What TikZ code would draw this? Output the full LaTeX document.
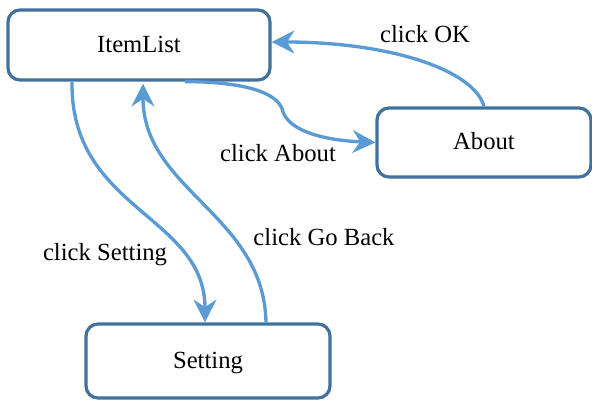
\documentclass[tikz,border=0pt]{standalone}
\usepackage{fontspec}
\setmainfont{Liberation Serif}
\usetikzlibrary{arrows.meta}
\definecolor{boxblue}{HTML}{41719C}
\definecolor{arrowblue}{HTML}{5B9BD5}
\begin{document}
\begin{tikzpicture}[x=0.75pt,y=-0.75pt,
  state/.style={draw=boxblue,line width=2.4pt,rounded corners=9pt,fill=white,
    font=\fontsize{18.5}{22}\selectfont,inner sep=0pt,text height=11pt,text depth=0pt},
  trans/.style={draw=arrowblue,line width=2.5pt,
    -{Stealth[length=17pt,width=17pt,inset=5.5pt]}},
  lbl/.style={font=\fontsize{18.5}{22}\selectfont,inner sep=0pt}]
\useasboundingbox (0,0) rectangle (592,400);
% states
\node[state,minimum width=196.5pt,minimum height=52.5pt] (IL) at (139,45) {ItemList};
\node[state,minimum width=160.5pt,minimum height=51.75pt] (AB) at (484,142.5) {About};
\node[state,minimum width=183pt,minimum height=55.5pt] (ST) at (208,361) {Setting};
% transitions
\draw[trans] (AB.north) .. controls (474,70) and (390,42) .. ([yshift=2.25pt]IL.east);
\draw[trans] ([xshift=34.5pt]IL.south) .. controls (255,82) and (280,96) .. (283,112)
  .. controls (292,136) and (340,141) .. (AB.west);
\draw[trans] ([xshift=-50.25pt]IL.south) .. controls (70,210) and (205,215) .. ([xshift=-2.25pt]ST.north);
\draw[trans] ([xshift=43.5pt]ST.north) .. controls (264,215) and (143,190) .. ([xshift=3pt,yshift=-1.5pt]IL.south);
% labels
\node[lbl] (lok) at (425,34) {click OK};
\node[lbl] (lab) at (278,153) {click About};
\node[lbl] (lst) at (105,255) {click Setting};
\node[lbl] (lgb) at (324,237) {click Go Back};
\end{tikzpicture}
\end{document}
